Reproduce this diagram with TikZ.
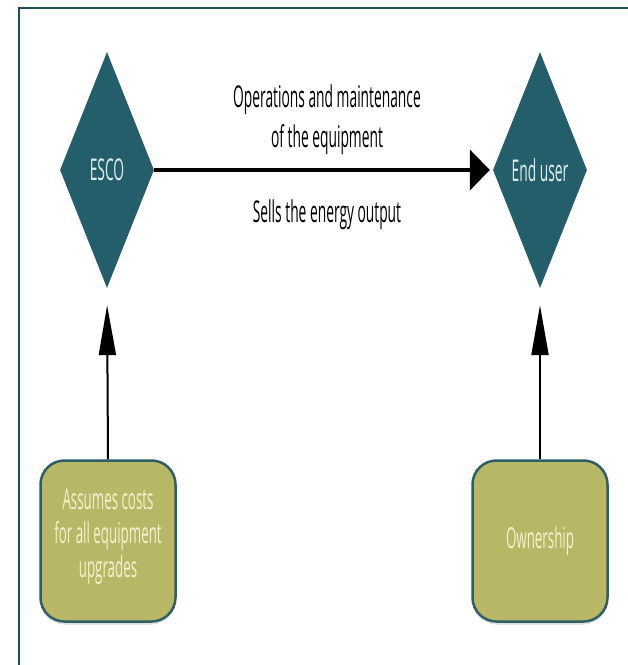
\documentclass[tikz,border=0pt]{standalone}
\usepackage{fontspec}
\setmainfont[FakeStretch=0.46]{Open Sans}
\usetikzlibrary{shapes.geometric,arrows.meta,shadows}

\definecolor{framecol}{HTML}{1E4C58}
\definecolor{teal}{HTML}{255E6B}
\definecolor{olive}{HTML}{B8B765}
\definecolor{oliveedge}{HTML}{2E5E66}
\definecolor{paletext}{HTML}{DDEEEE}
\definecolor{creamtext}{HTML}{F6F1CF}

\tikzset{
  party/.style={diamond, fill=teal, draw=none, inner sep=0pt,
    minimum width=94pt, minimum height=236pt,
    text=paletext, font=\fontsize{30}{30}\selectfont},
  rolebox/.style={rounded corners=24pt, fill=olive, draw=oliveedge,
    line width=2.5pt, minimum width=135pt, minimum height=161pt,
    inner sep=2pt, align=center, text=creamtext,
    font=\fontsize{29}{34}\selectfont,
    drop shadow={opacity=0.25, shadow xshift=0pt, shadow yshift=-3pt}},
  roletext/.style={align=center, text=creamtext,
    font=\fontsize{29}{34}\selectfont},
  flowlabel/.style={align=center, text=black,
    font=\fontsize{30}{40}\selectfont},
  mainflow/.style={line width=4.5pt, -{Triangle[length=20pt,width=40pt]},
    shorten >=3pt},
  upflow/.style={line width=2pt, -{Triangle[length=50pt,width=17pt]},
    shorten >=17pt},
}

\begin{document}
\begin{tikzpicture}[x=1pt, y=-1pt]
  \useasboundingbox (0,0) rectangle (628,665);
  \clip (0,0) rectangle (628,665);
  \fill[white] (0,0) rectangle (628,665);
  % outer frame, running past the right and bottom edges
  \draw[framecol, line width=2pt] (19,8) rectangle (660,700);

  \node[party] (esco) at (107,170) {ESCO};
  \node[party] (user) at (540,170) {End user};

  \node[rolebox] (costs) at (108,541) {};
  \node[roletext] (coststext) at (108,537) {Assumes costs\\for all equipment\\upgrades};
  \node[rolebox] (own) at (540,541) {Ownership};

  \draw[mainflow] (esco.east) -- (user.west);
  \node[flowlabel] (ops) at (327,120) {Operations and maintenance\\of the equipment};
  \node[flowlabel] (sells) at (327,215) {Sells the energy output};

  \draw[upflow] (costs.north) -- (esco.south);
  \draw[upflow] (own.north) -- (user.south);
\end{tikzpicture}
\end{document}
